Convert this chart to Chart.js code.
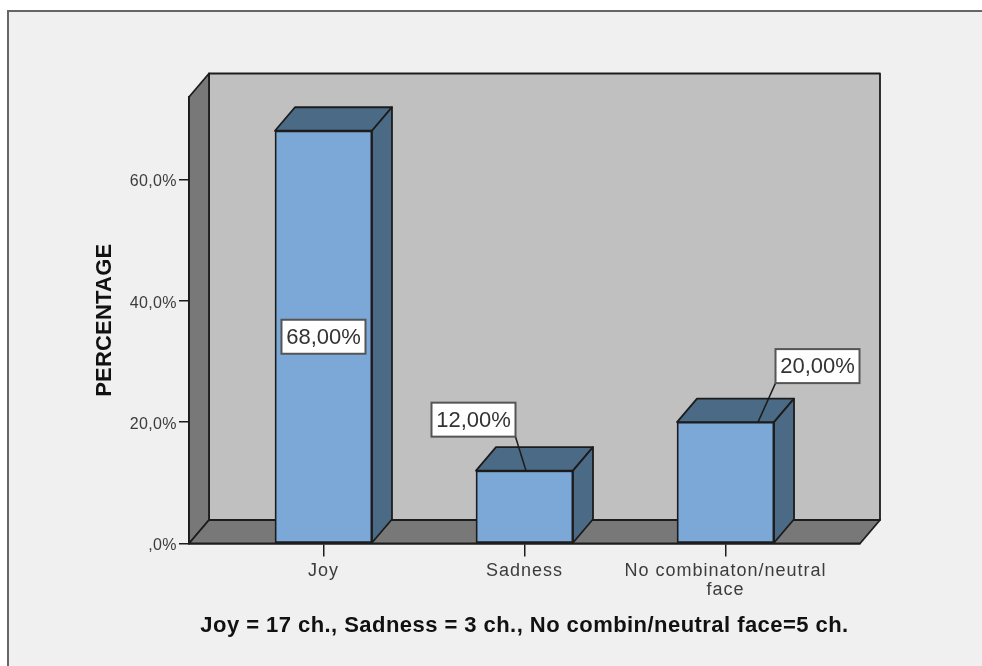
<!DOCTYPE html>
<html>
<head>
<meta charset="utf-8">
<style>
html, body { margin: 0; padding: 0; background: #fff; }
#wrap { width: 982px; height: 666px; position: relative; }
</style>
<script src="https://cdn.jsdelivr.net/npm/chart.js@4/dist/chart.umd.min.js"></script>
</head>
<body>
<div id="wrap"><canvas id="emotionChart" width="982" height="666"></canvas></div>
<script>
const categories = ['Joy', 'Sadness', ['No combinaton/neutral', 'face']];
const percentages = [68, 12, 20];
const valueLabels = ['68,00%', '12,00%', '20,00%'];
const yTitle = 'PERCENTAGE';
const xTitle = 'Joy = 17 ch., Sadness = 3 ch., No combin/neutral face=5 ch.';

const depthX = 20, depthY = -23.5;
const lineColor = '#1c1c1c';
const textColor = '#3c3c3c';
const fontFamily = '"Liberation Sans", Arial, sans-serif';

// where each value box sits relative to the bar centre / bar top
const boxOffsets = [
    { dx: 0, fromMiddle: true },
    { dx: -51, dy: -51, tip: 1.5 },
    { dx: 92, dy: -56, tip: 32.5 }
];

function poly(c, pts, fill) {
    c.beginPath();
    pts.forEach((p, i) => i ? c.lineTo(p[0], p[1]) : c.moveTo(p[0], p[1]));
    c.closePath();
    c.fillStyle = fill;
    c.fill();
    c.stroke();
}

// the original text is wider than Liberation at the same height, so space it out
function spaced(scale, method, px, shiftY) {
    const orig = scale[method];
    scale[method] = function (arg) {
        const c = this.ctx;
        c.save();
        c.letterSpacing = px + 'px';
        c.translate(0, shiftY);
        orig.call(this, arg);
        c.restore();
    };
}

const walls = {
    id: 'walls',
    beforeDraw(chart) {
        const c = chart.ctx, a = chart.chartArea;
        if (!chart.$spaced) {
            chart.$spaced = true;
            spaced(chart.scales.x, 'drawLabels', 1.0, 0);
            spaced(chart.scales.x, 'drawTitle', 0.45, 0);
            spaced(chart.scales.y, 'drawLabels', 0.4, 2.5);
            spaced(chart.scales.y, 'drawTitle', 0.2, 0);
        }
        c.save();
        c.fillStyle = '#f0f0f0';
        c.fillRect(8, 10, 974, 656);
        c.strokeStyle = '#666';
        c.lineWidth = 2;
        c.beginPath();
        c.moveTo(8, 666);
        c.lineTo(8, 11);
        c.lineTo(982, 11);
        c.stroke();

        c.strokeStyle = lineColor;
        c.lineWidth = 1.8;
        c.lineJoin = 'round';
        poly(c, [[a.left + depthX, a.top + depthY], [a.right + depthX, a.top + depthY],
            [a.right + depthX, a.bottom + depthY], [a.left + depthX, a.bottom + depthY]], '#c0c0c0');
        poly(c, [[a.left, a.top], [a.left + depthX, a.top + depthY],
            [a.left + depthX, a.bottom + depthY], [a.left, a.bottom]], '#787878');
        poly(c, [[a.left, a.bottom], [a.left + depthX, a.bottom + depthY],
            [a.right + depthX, a.bottom + depthY], [a.right, a.bottom]], '#787878');
        c.restore();
    }
};

const barFaces = {
    id: 'barFaces',
    beforeDatasetsDraw(chart) {
        const c = chart.ctx;
        c.save();
        c.strokeStyle = lineColor;
        c.lineWidth = 1.8;
        c.lineJoin = 'round';
        chart.getDatasetMeta(0).data.forEach(bar => {
            const l = bar.x - bar.width / 2, r = bar.x + bar.width / 2;
            poly(c, [[l, bar.y], [l + depthX, bar.y + depthY], [r + depthX, bar.y + depthY], [r, bar.y]], '#4b6a85');
            poly(c, [[r, bar.y], [r + depthX, bar.y + depthY], [r + depthX, bar.base + depthY], [r, bar.base]], '#4b6a85');
        });
        c.restore();
    }
};

const valueBoxes = {
    id: 'valueBoxes',
    afterDatasetsDraw(chart) {
        const c = chart.ctx;
        const w = 84, h = 34;
        c.save();
        c.font = '22px ' + fontFamily;
        c.textAlign = 'center';
        c.textBaseline = 'middle';
        chart.getDatasetMeta(0).data.forEach((bar, i) => {
            const o = boxOffsets[i];
            const cx = bar.x + o.dx;
            const cy = o.fromMiddle ? (bar.y + bar.base) / 2 : bar.y + o.dy;
            if (o.tip !== undefined) {
                c.strokeStyle = lineColor;
                c.lineWidth = 1.5;
                c.beginPath();
                c.moveTo(cx + (o.dx < 0 ? w / 2 : -w / 2), cy + h / 2);
                c.lineTo(bar.x + o.tip, bar.y);
                c.stroke();
            }
            c.fillStyle = '#fff';
            c.strokeStyle = '#555';
            c.lineWidth = 2;
            c.fillRect(cx - w / 2, cy - h / 2, w, h);
            c.strokeRect(cx - w / 2, cy - h / 2, w, h);
            c.fillStyle = '#333';
            c.fillText(valueLabels[i], cx, cy + 1);
        });
        c.restore();
    }
};

new Chart(document.getElementById('emotionChart'), {
    type: 'bar',
    data: {
        datasets: [{
            data: percentages.map((v, i) => ({ x: i, y: v })),
            backgroundColor: '#7ba8d7',
            borderColor: lineColor,
            borderWidth: 1.8,
            borderSkipped: false,
            barThickness: 97
        }]
    },
    plugins: [walls, barFaces, valueBoxes],
    options: {
        responsive: false,
        animation: false,
        layout: { padding: { top: 97, right: 122, bottom: 0, left: 0 } },
        plugins: { legend: { display: false }, tooltip: { enabled: false } },
        scales: {
            x: {
                type: 'linear',
                offset: false,
                min: -0.669,
                max: 2.669,
                afterBuildTicks: s => { s.ticks = categories.map((c, i) => ({ value: i })); },
                afterFit: s => { s.height = 122.5; },
                grid: { offset: false, drawOnChartArea: false, color: lineColor, lineWidth: 1.5, tickLength: 13 },
                border: { color: lineColor, width: 1.5 },
                ticks: {
                    autoSkip: false,
                    maxRotation: 0,
                    padding: 5,
                    color: textColor,
                    font: { family: fontFamily, size: 18, lineHeight: 1.07 },
                    callback: v => categories[v]
                },
                title: {
                    display: true,
                    text: xTitle,
                    color: '#111',
                    padding: { top: 0, bottom: 27 },
                    font: { family: fontFamily, size: 22, weight: 'bold' }
                }
            },
            y: {
                min: 0,
                max: 73.56,
                afterFit: s => { s.width = 189; },
                grid: { drawOnChartArea: false, color: lineColor, lineWidth: 1.5, tickLength: 10 },
                border: { color: lineColor, width: 1.5 },
                ticks: {
                    stepSize: 20,
                    includeBounds: false,
                    padding: 2,
                    color: textColor,
                    font: { family: fontFamily, size: 16 },
                    callback: v => (v === 0 ? ',0%' : v.toFixed(1).replace('.', ',') + '%')
                },
                title: {
                    display: true,
                    text: yTitle,
                    color: '#111',
                    padding: { top: 92, bottom: 0 },
                    font: { family: fontFamily, size: 22, weight: 'bold' }
                }
            }
        }
    }
});
</script>
</body>
</html>
